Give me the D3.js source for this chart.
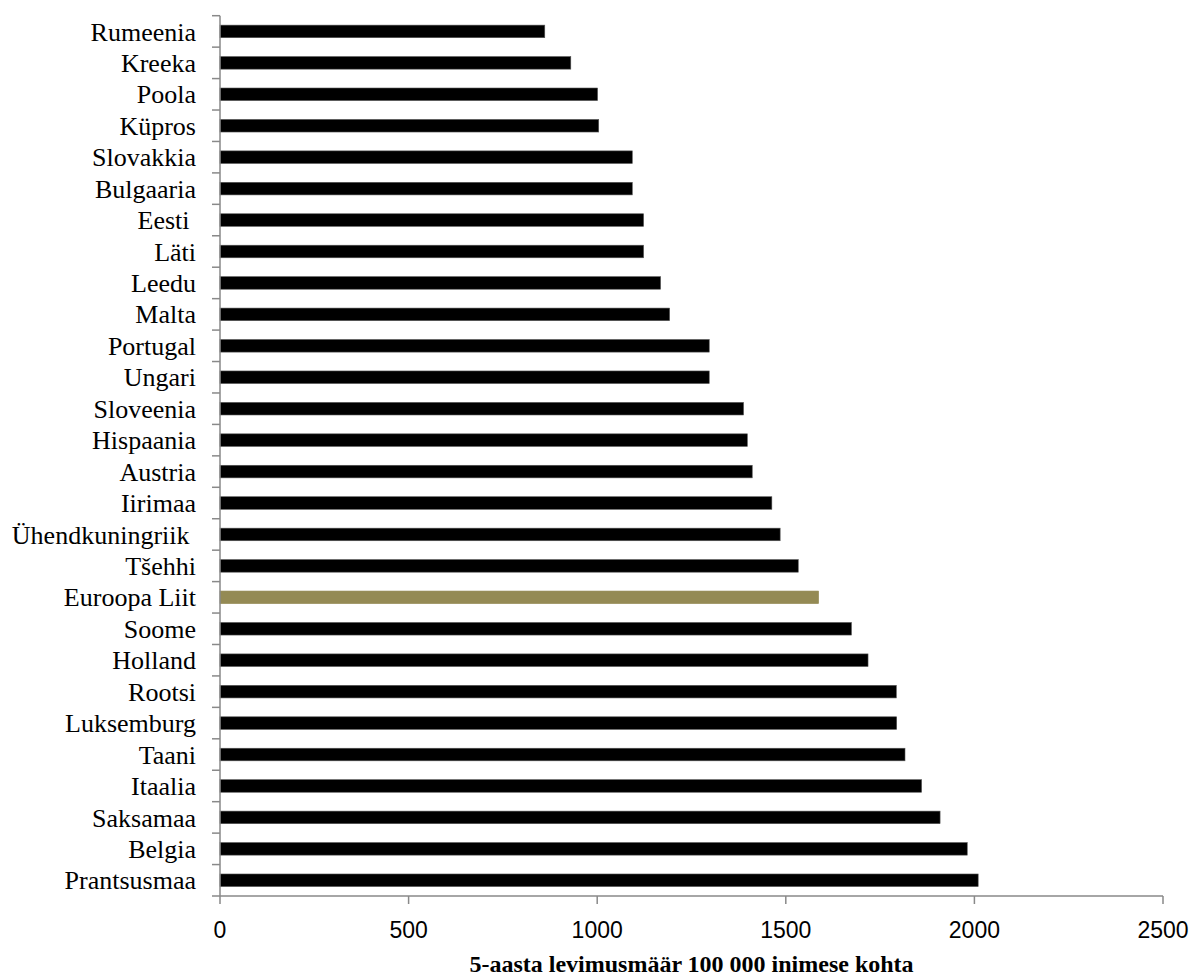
<!DOCTYPE html>
<html>
<head>
<meta charset="utf-8">
<script src="https://cdn.jsdelivr.net/npm/d3@7"></script>
<style>
  body { margin: 0; background: #fff; }
  svg { display: block; }
</style>
</head>
<body>
<div id="chart"></div>
<script>
// countries, top to bottom (trailing spaces kept as in the source)
var countries = ['Rumeenia', 'Kreeka', 'Poola', 'Küpros', 'Slovakkia', 'Bulgaaria',
  'Eesti ', 'Läti', 'Leedu', 'Malta', 'Portugal', 'Ungari', 'Sloveenia', 'Hispaania',
  'Austria', 'Iirimaa', 'Ühendkuningriik ', 'Tšehhi', 'Euroopa Liit', 'Soome',
  'Holland', 'Rootsi', 'Luksemburg', 'Taani', 'Itaalia', 'Saksamaa', 'Belgia', 'Prantsusmaa']

var values = [861, 930, 1001, 1004, 1093, 1093,
  1123, 1123, 1168, 1192, 1297, 1297, 1388, 1398,
  1411, 1463, 1485, 1533, 1587, 1674,
  1718, 1793, 1794, 1816, 1860, 1909, 1981, 2010]

var highlight = 'Euroopa Liit'
var xTicks = [0, 500, 1000, 1500, 2000, 2500]
var xTitle = '5-aasta levimusmäär 100 000 inimese kohta'

var width = 1192
var height = 978
var margin = {top: 15.7, right: 29, bottom: 82, left: 220}
var axisColor = '#898989'

var data = countries.map(function (c, i) {
  return {name: c, value: values[i]}
})

var svg = d3.select('#chart').append('svg')
    .attr('width', width)
    .attr('height', height)

var x = d3.scaleLinear()
    .domain([0, 2500])
    .range([margin.left, width - margin.right])

var y = d3.scaleBand()
    .domain(countries)
    .range([margin.top, height - margin.bottom])
    .paddingInner(0.6)
    .paddingOuter(0.3)

var bottom = height - margin.bottom

// bars
svg.append('g').selectAll('rect')
    .data(data)
  .enter().append('rect')
    .attr('x', x(0))
    .attr('y', d => y(d.name))
    .attr('width', d => x(d.value) - x(0))
    .attr('height', y.bandwidth())
    .attr('fill', d => d.name == highlight ? '#948a54' : '#000')
    .attr('stroke', d => d.name == highlight ? '#948a54' : '#555')
    .attr('stroke-width', 0.6)

// y axis line and boundary ticks
var step = y.step()
var boundaries = d3.range(countries.length + 1).map(i => margin.top + i * step)

svg.append('line')
    .attr('x1', x(0)).attr('x2', x(0))
    .attr('y1', margin.top).attr('y2', bottom)
    .attr('stroke', axisColor)
    .attr('stroke-width', 1.5)

svg.append('g').selectAll('line')
    .data(boundaries)
  .enter().append('line')
    .attr('x1', x(0) - 8).attr('x2', x(0))
    .attr('y1', d => d).attr('y2', d => d)
    .attr('stroke', axisColor)
    .attr('stroke-width', 1.5)

// category labels
svg.append('g').selectAll('text')
    .data(countries)
  .enter().append('text')
    .attr('x', 196)
    .attr('y', d => y(d) + y.bandwidth() / 2)
    .attr('dy', '0.35em')
    .attr('text-anchor', 'end')
    .attr('font-family', '"Liberation Serif", "Times New Roman", serif')
    .attr('font-size', '26px')
    .style('white-space', 'pre')
    .text(d => d)

// x axis
svg.append('line')
    .attr('x1', x(0)).attr('x2', x(2500))
    .attr('y1', bottom).attr('y2', bottom)
    .attr('stroke', axisColor)
    .attr('stroke-width', 1.5)

var xt = svg.append('g').selectAll('g')
    .data(xTicks)
  .enter().append('g')
    .attr('transform', d => 'translate(' + x(d) + ',' + bottom + ')')

xt.append('line')
    .attr('y1', 0).attr('y2', 8)
    .attr('stroke', axisColor)
    .attr('stroke-width', 1.5)

xt.append('text')
    .attr('y', 42)
    .attr('text-anchor', 'middle')
    .attr('font-family', '"Liberation Sans", Arial, sans-serif')
    .attr('font-size', '23px')
    .attr('fill', '#000')
    .text(d => d)

// axis title
svg.append('text')
    .attr('x', (x(0) + x(2500)) / 2)
    .attr('y', 972)
    .attr('text-anchor', 'middle')
    .attr('font-family', '"Liberation Serif", "Times New Roman", serif')
    .attr('font-size', '24px')
    .attr('font-weight', 'bold')
    .text(xTitle)
</script>
</body>
</html>
